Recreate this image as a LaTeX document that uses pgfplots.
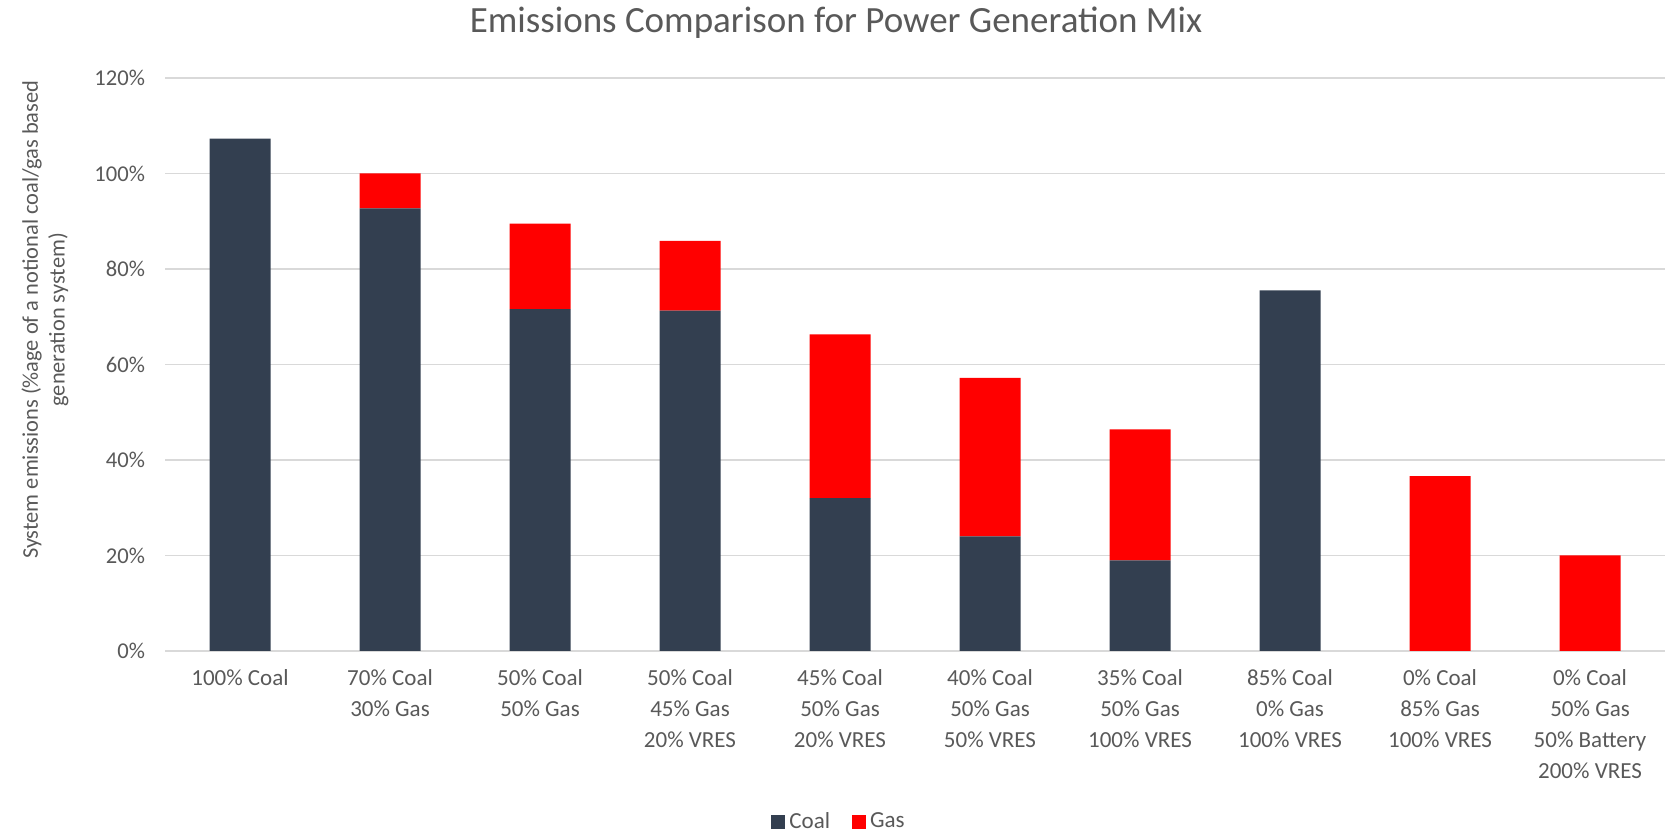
\documentclass[border=0pt]{standalone}
\usepackage{pgfplots}
\pgfplotsset{compat=1.18}
\usepackage{fontspec}
\setmainfont{Carlito}

\definecolor{coal}{HTML}{333F50}
\definecolor{gas}{HTML}{FF0000}
\definecolor{txt}{HTML}{595959}
\definecolor{gridgray}{HTML}{D9D9D9}

\begin{document}
\begin{tikzpicture}
\useasboundingbox (0pt,0pt) rectangle (836.5pt,416.5pt);
\node[text=txt, font=\fontsize{18.5}{22}\selectfont] at (418pt,405pt) {Emissions Comparison for Power Generation Mix};
\begin{axis}[
  at={(82.5pt,91pt)}, anchor=south west,
  scale only axis,
  width=750pt, height=286.5pt,
  ybar stacked,
  bar width=30.5pt,
  xmin=-0.5, xmax=9.5,
  ymin=0, ymax=120,
  ytick={0,20,...,120},
  yticklabel={\pgfmathprintnumber{\tick}\%},
  /pgf/number format/assume math mode=true,
  xtick={0,...,9},
  xticklabels={
    {100\% Coal},
    {70\% Coal\\30\% Gas},
    {50\% Coal\\50\% Gas},
    {50\% Coal\\45\% Gas\\20\% VRES},
    {45\% Coal\\50\% Gas\\20\% VRES},
    {40\% Coal\\50\% Gas\\50\% VRES},
    {35\% Coal\\50\% Gas\\100\% VRES},
    {85\% Coal\\0\% Gas\\100\% VRES},
    {0\% Coal\\85\% Gas\\100\% VRES},
    {0\% Coal\\50\% Gas\\50\% Battery\\200\% VRES}},
  xticklabel style={align=center, text=txt, font=\fontsize{11.5}{15.5}\selectfont, yshift=-5.5pt},
  yticklabel style={text=txt, font=\fontsize{11.3}{13}\selectfont, xshift=-6.5pt},
  major tick length=0pt,
  axis line style={draw=none},
  ymajorgrids, xmajorgrids=false,
  grid style={draw=gridgray, line width=0.7pt},
  ylabel={System emissions (\%age of a notional coal/gas based\\generation system)},
  ylabel style={align=center, text=txt, font=\fontsize{11.2}{13.3}\selectfont, at={(axis description cs:-0.08,0.578)}, anchor=center},
  legend style={at={(axis description cs:0.45,-0.298)}, anchor=center, draw=none, inner sep=0.5pt, legend columns=2, font=\fontsize{11.5}{13}\selectfont, text=txt, /tikz/every even column/.append style={column sep=9pt}},
  legend image code/.code={\fill[#1] (0,-3.5pt) rectangle (7pt,3.5pt);},
]
\addplot[fill=coal, draw=none] coordinates {
  (0,107.3) (1,92.7) (2,71.6) (3,71.3) (4,32.0) (5,24.0) (6,19.0) (7,75.5) (8,0) (9,0)};
\addlegendentry{Coal}
\addplot[fill=gas, draw=none] coordinates {
  (0,0) (1,7.3) (2,17.9) (3,14.6) (4,34.3) (5,33.2) (6,27.4) (7,0) (8,36.6) (9,20.0)};
\addlegendentry{Gas}
\end{axis}
\end{tikzpicture}
\end{document}
